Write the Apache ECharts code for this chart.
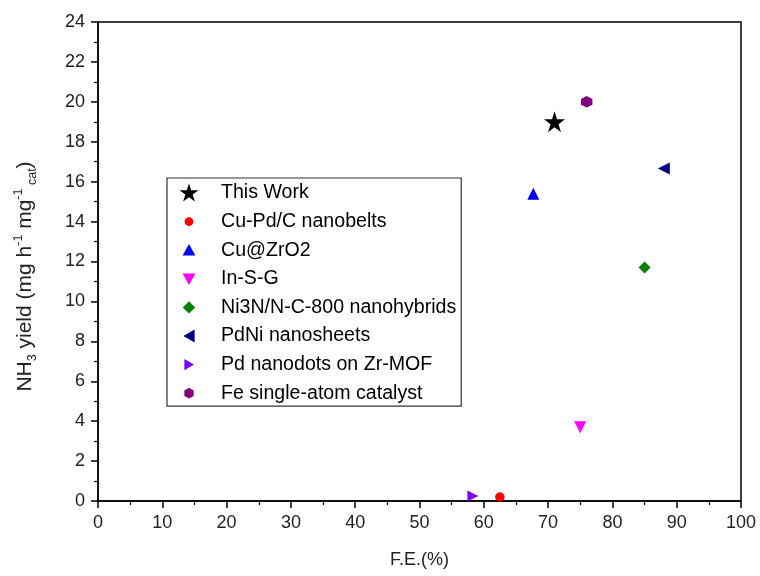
<!DOCTYPE html>
<html>
<head>
<meta charset="utf-8">
<script src="https://cdn.jsdelivr.net/npm/echarts@6/dist/echarts.min.js"></script>
<style>
  html, body { margin: 0; padding: 0; background: #fff; }
  #chart { width: 760px; height: 576px; }
</style>
</head>
<body>
<div id="chart"></div>
<script>
// Catalyst names, Faradaic efficiency (%) and NH3 yield (mg h-1 mg-1 cat)
const catalysts = [
  'This Work',
  'Cu-Pd/C nanobelts',
  'Cu@ZrO2',
  'In-S-G',
  'Ni3N/N-C-800 nanohybrids',
  'PdNi nanosheets',
  'Pd nanodots on Zr-MOF',
  'Fe single-atom catalyst'
];
const feValues    = [71, 62.5, 67.7, 75, 85, 88, 58.3, 76];
const yieldValues = [19, 0.2, 15.4, 3.7, 11.7, 16.66, 0.25, 20];

const xTicks = [0, 10, 20, 30, 40, 50, 60, 70, 80, 90, 100];
const yTicks = [0, 2, 4, 6, 8, 10, 12, 14, 16, 18, 20, 22, 24];

// Marker shapes (100x100 boxes). The legend variants start with two bare
// moveTo points so every icon shares the same 0..100 frame and keeps its own size.
const FRAME = 'M0 0 M100 100 ';
const STAR_D = 'M50 2 L61.2 36.5 L97.6 36.5 L68.2 57.9 L79.4 92.5 L50 71.1 L20.6 92.5 L31.8 57.9 L2.4 36.5 L38.8 36.5 Z';
const HEX_D = 'M50 0 L93.3 25 L93.3 75 L50 100 L6.7 75 L6.7 25 Z';
const legendIcons = [
  'path://' + FRAME + STAR_D,
  'path://' + FRAME + 'M50 28 A22 22 0 1 1 49.99 28 Z',
  'path://' + FRAME + 'M50 19 L82 77 L18 77 Z',
  'path://' + FRAME + 'M18 23 L82 23 L50 81 Z',
  'path://' + FRAME + 'M50 19 L81 50 L50 81 L19 50 Z',
  'path://' + FRAME + 'M22 50 L78 18 L78 82 Z',
  'path://' + FRAME + 'M75 50 L27 22 L27 78 Z',
  'path://' + FRAME + 'M50 23 L73.4 36.5 L73.4 63.5 L50 77 L26.6 63.5 L26.6 36.5 Z'
];
const markers = [
  { symbol: 'path://' + STAR_D, size: 21, rotate: 0, color: '#000000' },
  { symbol: 'circle', size: 9.5, rotate: 0, color: '#ff0000' },
  { symbol: 'triangle', size: 12, rotate: 0, color: '#0000ff' },
  { symbol: 'triangle', size: 12, rotate: 180, color: '#ff00ff' },
  { symbol: 'diamond', size: 12, rotate: 0, color: '#008000' },
  { symbol: 'triangle', size: 12, rotate: 90, color: '#000080' },
  { symbol: 'triangle', size: 11, rotate: -90, color: '#7f00ff' },
  { symbol: 'path://' + HEX_D, size: 11.5, rotate: 0, color: '#800080' }
];

const series = catalysts.map((name, i) => ({
  name: name,
  type: 'scatter',
  data: [[feValues[i], yieldValues[i]]],
  symbol: markers[i].symbol,
  symbolSize: markers[i].size,
  symbolRotate: markers[i].rotate,
  itemStyle: { color: markers[i].color, opacity: 1 },
  z: 3
}));

const FONT = '"Liberation Sans", Arial, sans-serif';
const chart = echarts.init(document.getElementById('chart'));

chart.setOption({
  animation: false,
  backgroundColor: '#ffffff',
  textStyle: { fontFamily: FONT },
  grid: {
    left: 98, right: 19, top: 22, bottom: 75,
    show: true,
    borderColor: '#000',
    borderWidth: 1.5,
    backgroundColor: 'transparent'
  },
  legend: {
    orient: 'vertical',
    left: 167,
    top: 178,
    padding: [5, 5, 3, 12],
    borderColor: '#333',
    borderWidth: 1.2,
    itemWidth: 20,
    itemHeight: 20,
    itemGap: 8.6,
    textStyle: { fontFamily: FONT, fontSize: 19.6, color: '#000', padding: [0, 0, 0, 17] },
    data: catalysts.map((name, i) => ({ name: name, icon: legendIcons[i] }))
  },
  xAxis: {
    type: 'value',
    min: xTicks[0],
    max: xTicks[xTicks.length - 1],
    interval: xTicks[1] - xTicks[0],
    name: 'F.E.(%)',
    nameLocation: 'middle',
    nameGap: 50,
    nameTextStyle: { fontFamily: FONT, fontSize: 18, color: '#222' },
    axisLine: { lineStyle: { color: '#000', width: 1.5 } },
    axisTick: { inside: false, length: 7, lineStyle: { color: '#000', width: 1.5 } },
    minorTick: { show: true, splitNumber: 2, length: 4, lineStyle: { color: '#000', width: 1.2 } },
    axisLabel: { fontFamily: FONT, fontSize: 18, color: '#222', margin: 13 },
    splitLine: { show: false }
  },
  yAxis: {
    type: 'value',
    min: yTicks[0],
    max: yTicks[yTicks.length - 1],
    interval: yTicks[1] - yTicks[0],
    name: '{a|NH}{sub|3}{a| yield (mg h}{sup|-1}{a| mg}{sup|-1}{sub| cat}{a|)}',
    nameLocation: 'middle',
    nameRotate: 90,
    nameGap: 59,
    nameTextStyle: {
      fontFamily: FONT,
      color: '#222',
      padding: [0, 30, 0, 0],
      rich: {
        a: { fontFamily: FONT, fontSize: 21, color: '#222' },
        sub: { fontFamily: FONT, fontSize: 12.5, color: '#222', padding: [15, 0, 0, 0] },
        sup: { fontFamily: FONT, fontSize: 12.5, color: '#222', padding: [0, 0, 13, 0] }
      }
    },
    axisLine: { lineStyle: { color: '#000', width: 1.5 } },
    axisTick: { inside: false, length: 7, lineStyle: { color: '#000', width: 1.5 } },
    minorTick: { show: true, splitNumber: 2, length: 4, lineStyle: { color: '#000', width: 1.2 } },
    axisLabel: { fontFamily: FONT, fontSize: 18, color: '#222', margin: 13 },
    splitLine: { show: false }
  },
  series: series
});
</script>
</body>
</html>
